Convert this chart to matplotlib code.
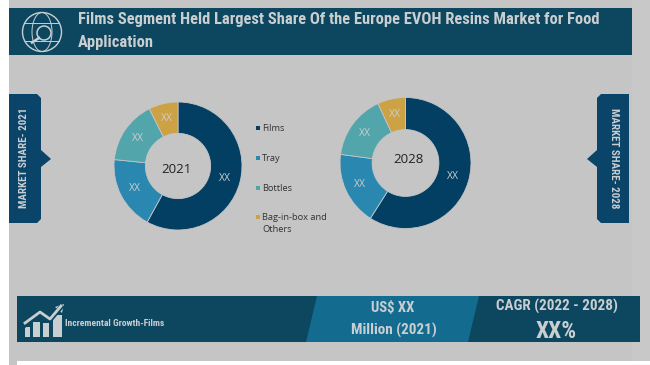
import matplotlib
matplotlib.use('Agg')
import matplotlib.pyplot as plt
from matplotlib import font_manager
from matplotlib.patches import Circle, Ellipse, Polygon, Rectangle

categories = ['Films', 'Tray', 'Bottles', 'Bag-in-box and\nOthers']
share_2021 = [58, 18.6, 16, 7.4]
share_2028 = [59, 18.1, 16, 6.9]
slice_labels = ['XX', 'XX', 'XX', 'XX']
colors = ['#033f63', '#2a88b0', '#52a5aa', '#cda245']

title = 'Films Segment Held Largest Share Of the Europe EVOH Resins Market for Food\nApplication'

W, H = 650, 365
GREY = '#c5c5c5'
DARK = '#0d465f'
MID = '#136b90'
TAG = '#0a4468'
LIGHT = '#c9ced1'

names = {f.name for f in font_manager.fontManager.ttflist}
narrow = 'Roboto Condensed' if 'Roboto Condensed' in names else 'Roboto'

fig = plt.figure(figsize=(W / 100, H / 100), dpi=100, facecolor='white')

# background layer in pixel coordinates, y going down
bg = fig.add_axes([0, 0, 1, 1])
bg.set_xlim(0, W)
bg.set_ylim(H, 0)
bg.axis('off')


def rect(x0, y0, x1, y1, color):
    bg.add_patch(Rectangle((x0, y0), x1 - x0, y1 - y0, color=color, lw=0))


rect(9, 0, 650, 361, GREY)
rect(632, 0, 650, 361, '#c8c8c8')
rect(9, 361, 17, 365, GREY)

# header band
rect(9, 8, 632, 55, DARK)
bg.text(78, 31, title, color=LIGHT, family=narrow, fontweight='bold', fontsize=11.9,
        va='center', ha='left', linespacing=1.6)

# globe + magnifier icon
gx, gy = 42, 32
bg.add_patch(Circle((gx, gy), 19.5, fill=False, ec=LIGHT, lw=1))
bg.add_patch(Ellipse((gx, gy), 20, 39, fill=False, ec=LIGHT, lw=0.7))
bg.plot([gx - 17, gx + 17], [gy - 9, gy - 9], color=LIGHT, lw=0.7)
bg.plot([gx - 17, gx + 17], [gy + 9, gy + 9], color=LIGHT, lw=0.7)
bg.add_patch(Circle((gx + 2, gy + 1), 7, fc=DARK, ec=LIGHT, lw=1.1, zorder=3))
bg.plot([gx - 3, gx - 10], [gy + 6, gy + 10.5], color=LIGHT, lw=1.8, zorder=3)

# side tags
bg.add_patch(Polygon([(9, 94), (37, 94), (41, 98), (41, 150), (51, 159), (41, 167),
                      (41, 219), (37, 223), (9, 223)], color=TAG, lw=0))
bg.add_patch(Polygon([(629, 94), (601, 94), (597, 98), (597, 150), (587, 159), (597, 167),
                      (597, 219), (601, 223), (629, 223)], color=TAG, lw=0))
bg.text(24.5, 158, 'MARKET SHARE- 2021', color=LIGHT, family=narrow, fontweight='bold', fontsize=7.9,
        rotation=90, ha='center', va='center')
bg.text(614, 158, 'MARKET SHARE- 2028', color=LIGHT, family=narrow, fontweight='bold', fontsize=7.9,
        rotation=270, ha='center', va='center')

# bottom band
rect(17, 296, 640, 342, DARK)
bg.add_patch(Polygon([(317, 296), (479, 296), (468, 342), (306, 342)], color=MID, lw=0))
bg.text(65, 323, 'Incremental Growth-Films', color=LIGHT, family=narrow, fontweight='bold',
        fontsize=6.8, ha='left', va='center')
bg.text(393, 308.5, 'US$ XX', color=LIGHT, family=narrow, fontweight='bold', fontsize=10.5,
        ha='center', va='center')
bg.text(394, 330, 'Million (2021)', color=LIGHT, family=narrow, fontweight='bold', fontsize=10.9,
        ha='center', va='center')
bg.text(557, 306, 'CAGR (2022 - 2028)', color=LIGHT, family=narrow, fontweight='bold', fontsize=10.9,
        ha='center', va='center')
bg.text(556, 331, 'XX%', color=LIGHT, family=narrow, fontweight='bold', fontsize=16.8,
        ha='center', va='center')

# growth icon
for x0, x1, top in [(25, 30, 327), (33, 40, 322), (43, 49, 323), (53, 62, 315)]:
    rect(x0, top, x1, 337, LIGHT)
bg.plot([25, 40, 50, 61], [325, 313, 320, 307], color=DARK, lw=3.5)
bg.plot([25, 40, 50, 61], [323, 312, 319, 306], color=LIGHT, lw=2)
bg.add_patch(Polygon([(55, 307), (64, 304), (62, 313)], color=LIGHT, lw=0))

# legend
legend_y = [128, 158, 188, 217]
text_y = [128.5, 158.5, 188.5, 223.5]
for c, ly, ty, name in zip(colors, legend_y, text_y, categories):
    rect(255.5, ly - 2, 259.5, ly + 2, c)
    bg.text(262, ty, name, color='#333333', family='Open Sans', fontsize=6.7,
            ha='left', va='center', linespacing=1.3)


def donut(cx, cy, r, values, year, year_x, year_y):
    ax = fig.add_axes([(cx - r) / W, 1 - (cy + r) / H, 2 * r / W, 2 * r / H])
    ax.pie(values, colors=colors, startangle=90, counterclock=False, radius=1,
           labels=slice_labels, labeldistance=0.76,
           textprops={'color': LIGHT, 'fontsize': 7.5, 'family': 'Open Sans', 'ha': 'center', 'va': 'center'},
           wedgeprops={'width': 0.49, 'edgecolor': GREY, 'linewidth': 0.6})
    ax.set_xlim(-1, 1)
    ax.set_ylim(-1, 1)
    ax.patch.set_alpha(0)
    ax.text(year_x, year_y, year, color='#222222', family='Open Sans', fontsize=9.5, ha='center', va='center')


donut(178, 166, 64, share_2021, '2021', -0.02, -0.06)
donut(405.5, 163, 65.5, share_2028, '2028', 0.04, 0.05)

fig.savefig('out.png', dpi=100, facecolor='white')
